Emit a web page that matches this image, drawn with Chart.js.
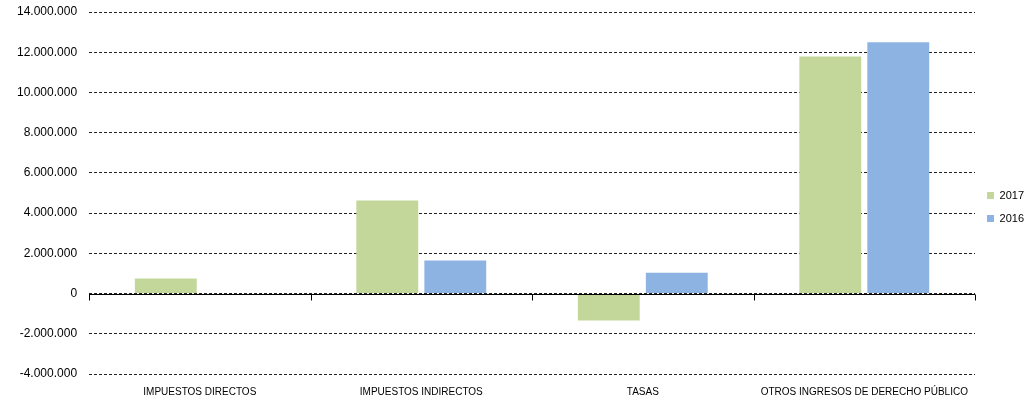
<!DOCTYPE html>
<html>
<head>
<meta charset="utf-8">
<script src="https://cdn.jsdelivr.net/npm/chart.js@4"></script>
<style>
  html, body { margin: 0; padding: 0; background: #fff; }
  #wrap { width: 1028px; height: 403px; }
</style>
</head>
<body>
<div id="wrap"><canvas id="myChart"></canvas></div>
<script>
var categories = ['IMPUESTOS DIRECTOS', 'IMPUESTOS INDIRECTOS', 'TASAS', 'OTROS INGRESOS DE DERECHO PÚBLICO'];
var values2017 = [750000, 4630000, -1340000, 11790000];
var values2016 = [-40000, 1640000, 1040000, 12490000];
var yTicks = [-4000000, -2000000, 0, 2000000, 4000000, 6000000, 8000000, 10000000, 12000000, 14000000];

// zero line + little category ticks hanging under it
var zeroLine = {
    id: 'zeroLine',
    afterDatasetsDraw: function(chart) {
        var c = chart.ctx, x = chart.scales.x, y = chart.scales.y;
        var y0 = Math.round(y.getPixelForValue(0)) + 0.5;
        c.save();
        c.strokeStyle = '#000';
        c.lineWidth = 1;
        c.beginPath();
        c.moveTo(x.left, y0);
        c.lineTo(x.right, y0);
        var step = (x.right - x.left) / categories.length;
        for (var i = 0; i <= categories.length; i++) {
            var px = Math.round(x.left + i * step) + 0.5;
            c.moveTo(px, y0);
            c.lineTo(px, y0 + 6);
        }
        c.stroke();
        c.restore();
    }
};

var ctx = document.getElementById('myChart').getContext('2d');
var myChart = new Chart(ctx, {
    type: 'bar',
    data: {
        labels: categories,
        datasets: [{
            label: '2017',
            data: values2017,
            backgroundColor: '#c4d79b',
            categoryPercentage: 0.614,
            barPercentage: 0.91
        },
        {
            label: '2016',
            data: values2016,
            backgroundColor: '#8db3e2',
            categoryPercentage: 0.614,
            barPercentage: 0.91
        }]
    },
    options: {
        responsive: true,
        maintainAspectRatio: false,
        animation: false,
        layout: { padding: { top: 12, left: 5, right: -6, bottom: 1 } },
        plugins: {
            legend: {
                position: 'right',
                labels: {
                    boxWidth: 7,
                    boxHeight: 7,
                    padding: 12,
                    color: '#000',
                    font: { family: 'Liberation Sans', size: 11 }
                }
            },
            tooltip: { enabled: false }
        },
        scales: {
            x: {
                grid: { display: false },
                border: { display: false },
                ticks: {
                    color: '#000',
                    padding: 4,
                    maxRotation: 0,
                    font: { family: 'Liberation Sans', size: 10 }
                }
            },
            y: {
                min: -4000000,
                max: 14000000,
                afterBuildTicks: function(axis) {
                    axis.ticks = yTicks.map(function(v) { return { value: v }; });
                },
                afterFit: function(axis) {
                    axis.paddingTop = 0;
                },
                grid: {
                    color: '#222',
                    drawTicks: false
                },
                border: { display: false, dash: [3, 2] },
                ticks: {
                    color: '#000',
                    padding: 12,
                    font: { family: 'Liberation Sans', size: 12 },
                    callback: function(v) {
                        return v.toString().replace(/\B(?=(\d{3})+(?!\d))/g, '.');
                    }
                }
            }
        }
    },
    plugins: [zeroLine]
});
</script>
</body>
</html>
